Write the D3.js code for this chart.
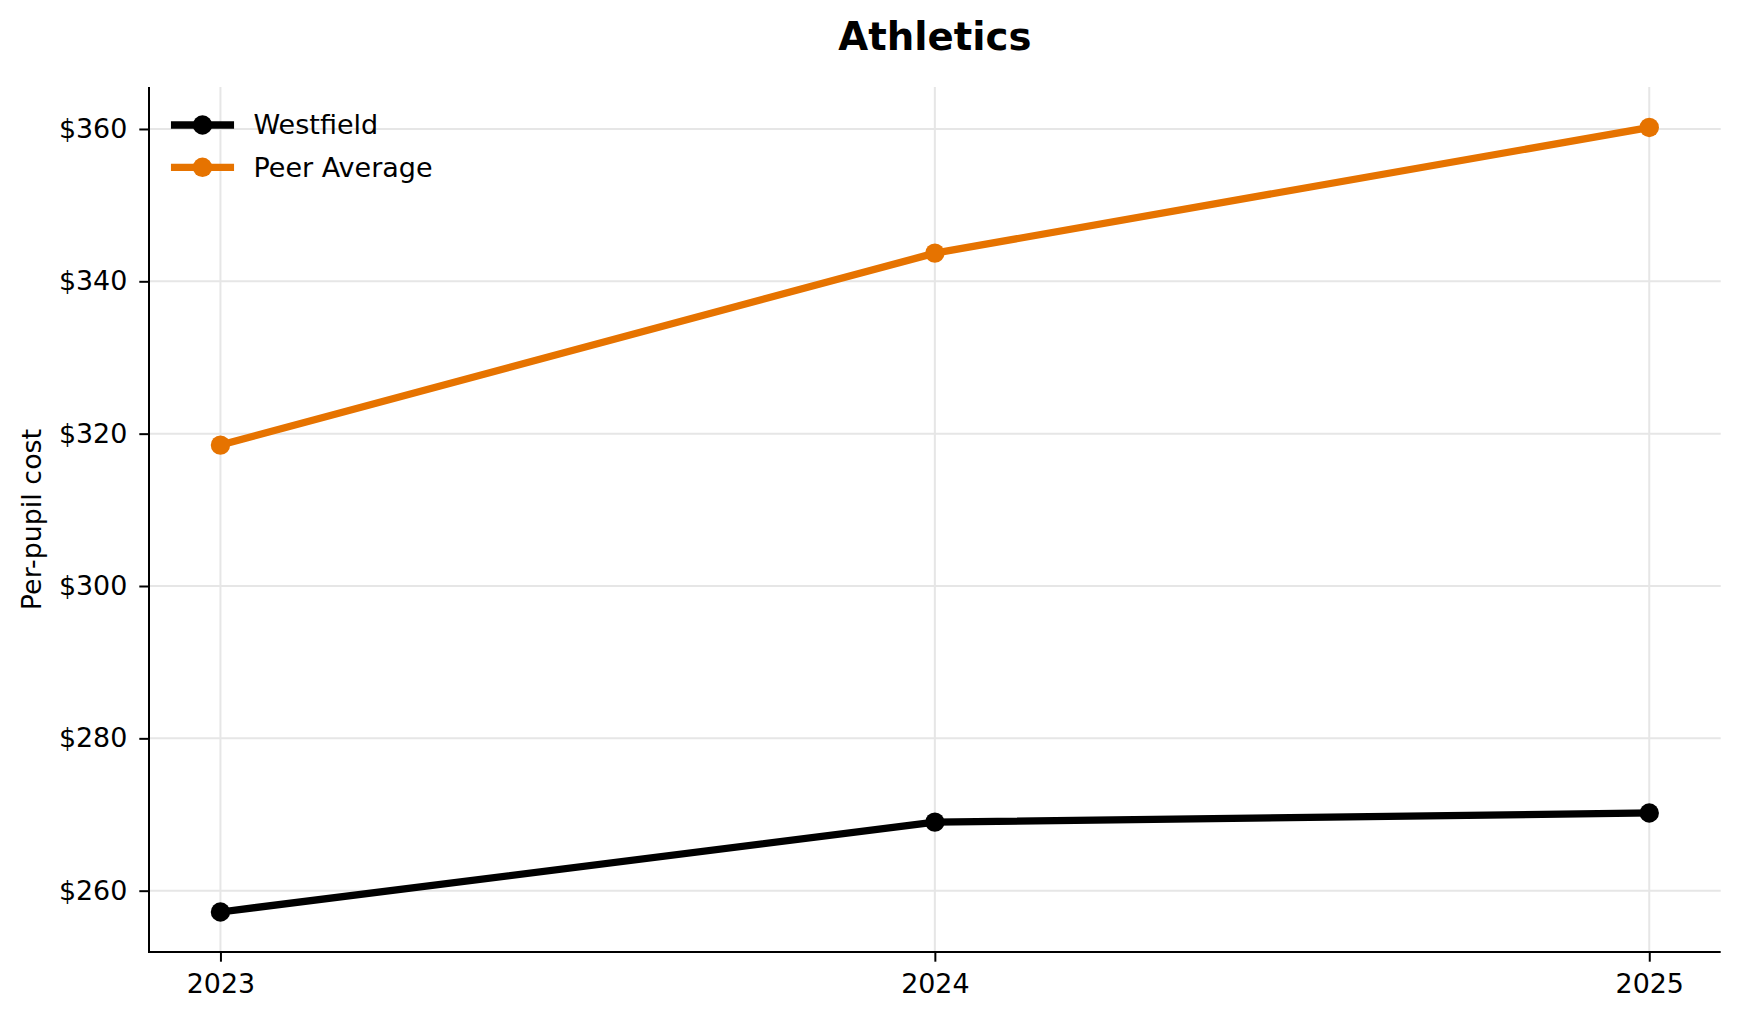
<!DOCTYPE html>
<html>
<head>
<meta charset="utf-8">
<script src="https://cdn.jsdelivr.net/npm/d3@7"></script>
<style>
  html, body { margin: 0; padding: 0; background: #ffffff; }
  #mainDiv { width: 1739px; height: 1019px; }
  text { font-family: "DejaVu Sans", sans-serif; }
</style>
</head>
<body>
<div id="mainDiv"></div>
<script>
'use strict';

var myApp = {};

// data
myApp.years = [2023, 2024, 2025];
myApp.westfield = [257.2, 269.0, 270.2];
myApp.peerAverage = [318.5, 343.7, 360.2];
myApp.seriesNames = ["Westfield", "Peer Average"];
myApp.yTicks = [260, 280, 300, 320, 340, 360];

myApp.colors = ["#000000", "#e67300"];

myApp.appendSvg = function (element, w, h)
{
    var node = d3.select(element).append("svg")
        .attr("width", w)
        .attr("height", h);
    return node;
}

myApp.run = function ()
{
    var W = 1739, H = 1019;
    var left = 149, right = 1720.7, top = 87, bottom = 952;
    var svg = myApp.appendSvg("#mainDiv", W, H);

    var x = d3.scaleLinear().domain([2022.9, 2025.1]).range([left, right]);
    var y = d3.scaleLinear().domain([251.95, 365.51]).range([bottom, top]);

    // grid
    var grid = svg.append("g");
    grid.selectAll("line.h")
        .data(myApp.yTicks)
        .enter()
        .append("line")
            .attr("x1", left).attr("x2", right)
            .attr("y1", function (d) { return y(d); })
            .attr("y2", function (d) { return y(d); })
            .attr("stroke", "#e6e6e6")
            .attr("stroke-width", 2);
    grid.selectAll("line.v")
        .data(myApp.years)
        .enter()
        .append("line")
            .attr("y1", top).attr("y2", bottom)
            .attr("x1", function (d) { return x(d); })
            .attr("x2", function (d) { return x(d); })
            .attr("stroke", "#e6e6e6")
            .attr("stroke-width", 2);

    // axes
    var xAxis = d3.axisBottom(x)
        .tickValues(myApp.years)
        .tickFormat(d3.format("d"))
        .tickSize(9.7)
        .tickPadding(12);
    var yAxis = d3.axisLeft(y)
        .tickValues(myApp.yTicks)
        .tickFormat(function (d) { return "$" + d; })
        .tickSize(9.7)
        .tickPadding(12);

    var gx = svg.append("g")
        .attr("transform", "translate(0," + bottom + ")")
        .call(xAxis);
    var gy = svg.append("g")
        .attr("transform", "translate(" + left + ",0)")
        .call(yAxis);

    [gx, gy].forEach(function (g) {
        g.select(".domain").remove();
        g.selectAll(".tick line").attr("stroke", "#000").attr("stroke-width", 2);
        g.selectAll(".tick text")
            .attr("fill", "#000")
            .style("font-family", "'DejaVu Sans', sans-serif")
            .style("font-size", "26.9px");
    });

    // spines
    svg.append("line")
        .attr("x1", left).attr("x2", left)
        .attr("y1", top).attr("y2", bottom + 1)
        .attr("stroke", "#000").attr("stroke-width", 2);
    svg.append("line")
        .attr("x1", left - 1).attr("x2", right)
        .attr("y1", bottom).attr("y2", bottom)
        .attr("stroke", "#000").attr("stroke-width", 2);

    // series
    var series = [myApp.westfield, myApp.peerAverage];
    var line = d3.line()
        .x(function (d, i) { return x(myApp.years[i]); })
        .y(function (d) { return y(d); });

    series.forEach(function (vals, k) {
        svg.append("path")
            .datum(vals)
            .attr("d", line)
            .attr("fill", "none")
            .attr("stroke", myApp.colors[k])
            .attr("stroke-width", 7.3)
            .attr("stroke-linejoin", "round")
            .attr("stroke-linecap", "square");
        svg.selectAll("circle.s" + k)
            .data(vals)
            .enter()
            .append("circle")
                .attr("cx", function (d, i) { return x(myApp.years[i]); })
                .attr("cy", function (d) { return y(d); })
                .attr("r", 9.7)
                .attr("fill", myApp.colors[k]);
    });

    // legend
    var legend = svg.append("g");
    myApp.seriesNames.forEach(function (name, k) {
        var ly = 125 + k * 42.3;
        legend.append("line")
            .attr("x1", 174.6).attr("x2", 230.4)
            .attr("y1", ly).attr("y2", ly)
            .attr("stroke", myApp.colors[k])
            .attr("stroke-width", 7.3)
            .attr("stroke-linecap", "square");
        legend.append("circle")
            .attr("cx", 202.5).attr("cy", ly)
            .attr("r", 9.7)
            .attr("fill", myApp.colors[k]);
        legend.append("text")
            .attr("x", 253.5).attr("y", ly)
            .attr("dy", "0.35em")
            .style("font-size", "27px")
            .attr("fill", "#000")
            .text(name);
    });

    // title and axis label
    svg.append("text")
        .attr("x", (left + right) / 2)
        .attr("y", 50)
        .attr("text-anchor", "middle")
        .style("font-size", "38.7px")
        .style("font-weight", "bold")
        .text("Athletics");

    svg.append("text")
        .attr("transform", "translate(40.5," + (top + bottom) / 2 + ") rotate(-90)")
        .attr("text-anchor", "middle")
        .style("font-size", "26.9px")
        .text("Per-pupil cost");
}

window.onload = myApp.run;
</script>
</body>
</html>
